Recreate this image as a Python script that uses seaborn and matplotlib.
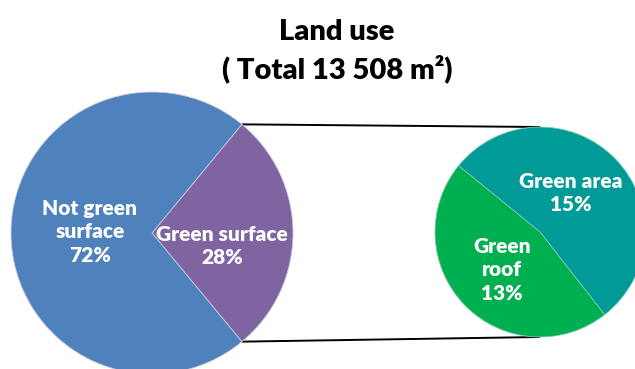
import matplotlib
matplotlib.use("Agg")
import matplotlib.pyplot as plt
import seaborn as sns
import numpy as np

# Land use breakdown
main_labels = ["Green surface", "Not green\nsurface"]
main_values = [28, 72]
main_colors = ["#8064A2", "#4F81BD"]

detail_labels = ["Green area", "Green\nroof"]
detail_values = [15, 13]
detail_colors = ["#009A97", "#00B050"]

title_lines = ["Land use", "( Total 13 508 m\u00b2)"]

sns.set_theme(style="white")
plt.rcParams["font.family"] = ["Lato", "DejaVu Sans"]

W, H = 635, 369
fig = plt.figure(figsize=(W / 100, H / 100), dpi=100)
ax = fig.add_axes([0, 0, 1, 1])
ax.set_axis_off()

# main pie: the green share is centred on the right-hand side
big_c = (152, H - 233)
big_r = 141
green_span = 360 * main_values[0] / sum(main_values)
ax.pie(main_values, colors=main_colors, startangle=-green_span / 2,
       counterclock=True, center=big_c, radius=big_r,
       wedgeprops=dict(linewidth=0.6, edgecolor="#c8c8d8"))

# breakdown of the green share
small_c = (540, H - 232)
small_r = 105
ax.pie(detail_values, colors=detail_colors, startangle=-52,
       counterclock=True, center=small_c, radius=small_r,
       wedgeprops=dict(linewidth=0.6, edgecolor="#7fc8b0"))

ax.set_xlim(0, W)
ax.set_ylim(0, H)
ax.set_aspect("equal")

# connector lines from the edges of the green wedge to the detail pie
half = np.deg2rad(green_span / 2)
for sgn in (1, -1):
    x0 = big_c[0] + big_r * np.cos(half)
    y0 = big_c[1] + sgn * big_r * np.sin(half)
    x1 = small_c[0]
    y1 = small_c[1] + sgn * small_r
    ax.plot([x0, x1], [y0, y1], color="black", lw=1.4,
            solid_capstyle="butt", zorder=0)

lab_kw = dict(color="white", fontsize=15, fontweight="heavy",
              ha="center", va="center", linespacing=1.3)
ax.text(90, H - 232, f"{main_labels[1]}\n{main_values[1]}%", **lab_kw)
ax.text(222, H - 246, f"{main_labels[0]}\n{main_values[0]}%", **lab_kw)
ax.text(571, H - 193, f"{detail_labels[0]}\n{detail_values[0]}%", **lab_kw)
ax.text(502, H - 270, f"{detail_labels[1]}\n{detail_values[1]}%", **lab_kw)

ax.text(337, H - 32, title_lines[0], fontsize=21, fontweight="heavy",
        color="black", ha="center", va="center")
ax.text(337, H - 69, title_lines[1], fontsize=21, fontweight="heavy",
        color="black", ha="center", va="center")

fig.savefig("out.png", dpi=100)
